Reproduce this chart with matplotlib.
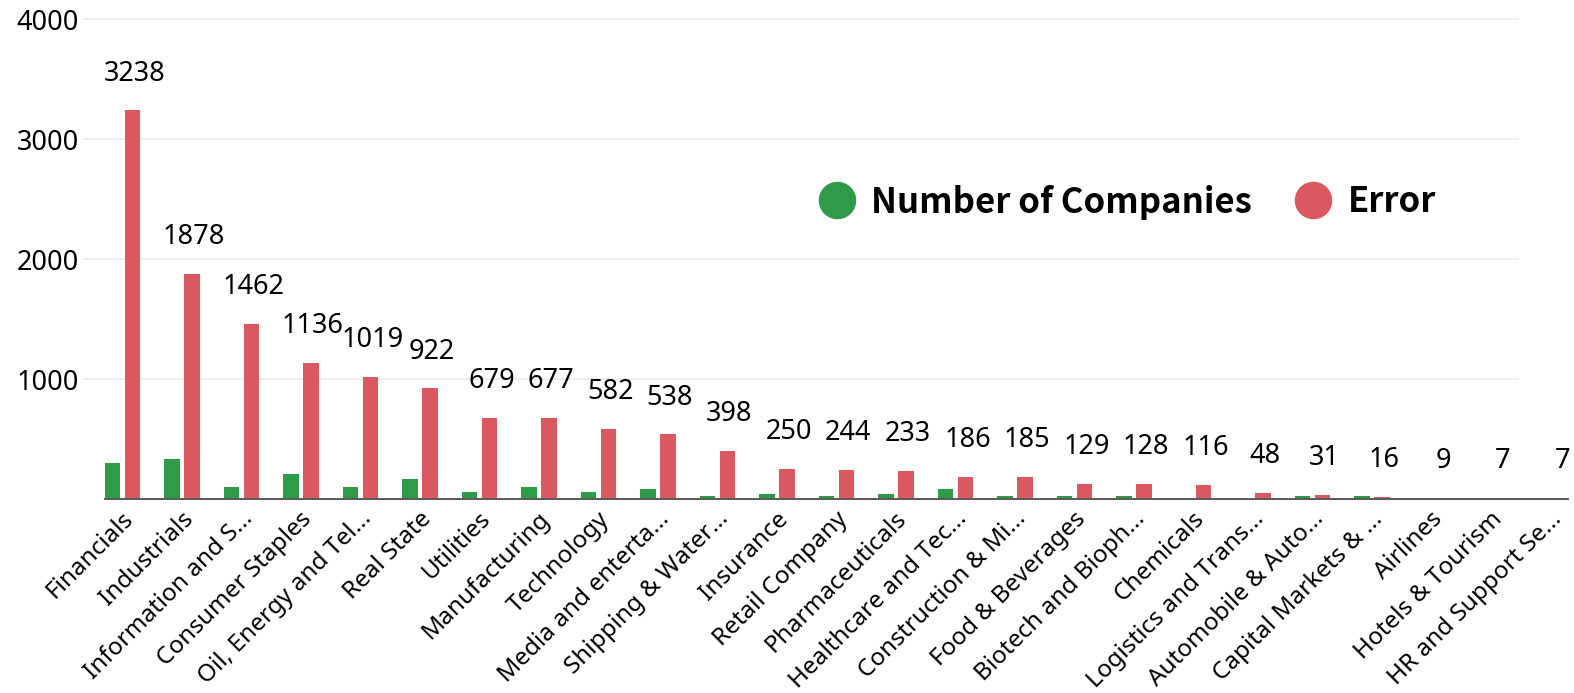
import numpy as np
import matplotlib
matplotlib.use("Agg")
import matplotlib.pyplot as plt
from matplotlib.lines import Line2D
from matplotlib.transforms import ScaledTranslation

plt.rcParams["font.family"] = ["Noto Sans", "DejaVu Sans"]

sectors = [
    "Financials", "Industrials", "Information and S...", "Consumer Staples",
    "Oil, Energy and Tel...", "Real State", "Utilities", "Manufacturing",
    "Technology", "Media and enterta...", "Shipping & Water...", "Insurance",
    "Retail Company", "Pharmaceuticals", "Healthcare and Tec...",
    "Construction & Mi...", "Food & Beverages", "Biotech and Bioph...",
    "Chemicals", "Logistics and Trans...", "Automobile & Auto...",
    "Capital Markets & ...", "Airlines", "Hotels & Tourism",
    "HR and Support Se...",
]
companies = [302, 331, 97, 208, 97, 167, 61, 97, 61, 81, 25, 42, 22, 45, 81,
             25, 25, 25, 0, 0, 22, 22, 0, 0, 0]
errors = [3238, 1878, 1462, 1136, 1019, 922, 679, 677, 582, 538, 398, 250,
          244, 233, 186, 185, 129, 128, 116, 48, 31, 16, 9, 7, 7]

GREEN = "#2f9a48"
RED = "#db5860"

fig = plt.figure(figsize=(15.74, 6.93), dpi=100)
ax = fig.add_axes([105 / 1574, 1 - 499 / 693, 1463 / 1574, 480 / 693])

x = np.arange(len(sectors))
w = 0.26
ax.bar(x - 0.165, companies, w, color=GREEN, zorder=3)
bars = ax.bar(x + 0.165, errors, w, color=RED, zorder=3)

for b, v in zip(bars, errors):
    ax.annotate(str(v), (b.get_x() + b.get_width() / 2, v),
                xytext=(1.5, 26.5), textcoords="offset points",
                ha="center", va="center", fontsize=19.5, color="black")

ax.set_xlim(-0.295, len(sectors) - 0.705)
ax.set_ylim(0, 4000)
ax.set_yticks([1000, 2000, 3000, 4000])
ax.tick_params(axis="y", length=0, pad=19, labelsize=19.5)
ax.tick_params(axis="x", length=0, pad=0)

# light horizontal grid, running a little past the left edge
for yv in [1000, 2000, 3000, 4000]:
    ax.plot([-0.015, 0.966], [yv, yv], transform=ax.get_yaxis_transform(),
            color="#ebebeb", lw=1.2, clip_on=False, zorder=1)

ax.set_xticks(x)
ax.set_xticklabels(sectors, rotation=45, ha="right", va="top",
                   rotation_mode="anchor", fontsize=17.5)
shift = ScaledTranslation(-1 / 100, -8 / 100, fig.dpi_scale_trans)
for lbl in ax.get_xticklabels():
    lbl.set_transform(lbl.get_transform() + shift)

for side in ["top", "right", "left"]:
    ax.spines[side].set_visible(False)
ax.spines["bottom"].set_color("#5a5a5a")
ax.spines["bottom"].set_linewidth(1.4)
ax.spines["bottom"].set_zorder(4)

handles = [
    Line2D([], [], ls="none", marker="o", markersize=26, color=GREEN),
    Line2D([], [], ls="none", marker="o", markersize=26, color=RED),
]
fig.legend(handles, ["Number of Companies", "Error"],
           loc="center", bbox_to_anchor=(1126 / 1574, 1 - 202 / 693),
           ncol=2, frameon=False, handlelength=1.2, handletextpad=0.4,
           columnspacing=1.15,
           prop={"family": ["Noto Sans CJK SC", "DejaVu Sans"],
                 "weight": "bold", "size": 25})

fig.savefig("out.png", dpi=100)
